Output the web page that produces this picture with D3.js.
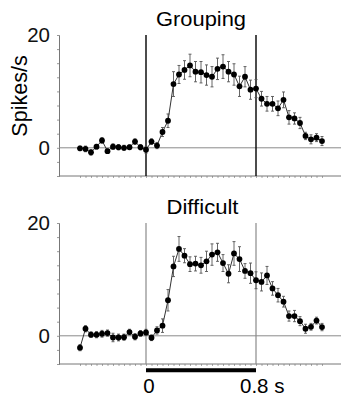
<!DOCTYPE html>
<html>
<head>
<meta charset="utf-8">
<script src="https://cdn.jsdelivr.net/npm/d3@7"></script>
<style>
  body { margin: 0; background: #fff; }
  svg { display: block; font-family: "Liberation Sans", Arial, sans-serif; }
</style>
</head>
<body>
<svg id="chart" width="341" height="399"></svg>
<script>
// time bins (s) relative to stimulus onset
var bins = [-0.48, -0.44, -0.40, -0.36, -0.32, -0.28, -0.24, -0.20, -0.16, -0.12, -0.08, -0.04,
    0.00, 0.04, 0.08, 0.12, 0.16, 0.20, 0.24, 0.28, 0.32, 0.36, 0.40, 0.44, 0.48, 0.52, 0.56,
    0.60, 0.64, 0.68, 0.72, 0.76, 0.80, 0.84, 0.88, 0.92, 0.96, 1.00, 1.04, 1.08, 1.12, 1.16,
    1.20, 1.24, 1.28];

var groupingRate = [-0.1, -0.2, -0.8, 0.2, 1.3, -0.6, 0.2, 0.1, 0.0, 0.1, 1.1, 0.1,
    -0.35, 1.1, 0.4, 2.8, 4.8, 11.3, 13.0, 13.8, 14.6, 13.5, 13.4, 12.9, 12.6, 14.0, 14.4,
    13.5, 13.0, 10.9, 12.6, 10.3, 10.5, 8.7, 7.8, 7.8, 7.0, 8.5, 5.4, 5.2, 4.4, 2.1,
    1.5, 1.8, 1.2];
var groupingSem = [0.4, 0.5, 0.5, 0.4, 0.5, 0.4, 0.5, 0.45, 0.45, 0.4, 0.5, 0.45,
    0.6, 0.5, 0.55, 0.8, 1.2, 2.2, 1.6, 1.65, 2.0, 1.8, 1.9, 1.8, 1.8, 1.9, 2.1,
    1.8, 1.9, 1.8, 1.8, 1.7, 1.6, 1.3, 1.3, 1.3, 1.3, 1.4, 1.2, 1.0, 1.0, 0.65,
    0.8, 0.7, 0.8];

var difficultRate = [-2.1, 1.25, 0.2, 0.2, 0.36, 0.48, -0.3, -0.3, -0.25, 0.66, -0.17, 0.42,
    0.6, -0.35, 0.95, 1.8, 6.3, 12.3, 15.4, 14.2, 12.7, 12.8, 12.5, 13.2, 14.4, 14.8, 12.9,
    11.0, 14.6, 13.6, 11.5, 11.1, 9.85, 9.55, 10.7, 8.4, 7.2, 6.05, 3.5, 3.5, 2.6, 1.25,
    1.6, 2.7, 1.55];
var difficultSem = [0.55, 0.55, 0.5, 0.55, 0.6, 0.55, 0.75, 0.6, 0.55, 0.5, 0.55, 0.5,
    0.55, 0.5, 0.65, 1.2, 1.9, 1.8, 2.2, 1.25, 1.3, 1.3, 1.4, 1.8, 1.9, 1.6, 1.5,
    1.6, 2.1, 2.2, 1.3, 1.8, 1.5, 1.6, 1.6, 1.2, 1.2, 0.95, 0.9, 1.0, 0.8, 0.8,
    0.6, 0.6, 0.65];

var yTicks = [-5, -2.5, 0, 2.5, 5, 7.5, 10, 12.5, 15, 17.5, 20];
var yLabels = [0, 20];
var events = [0, 0.8];          // stimulus on / off
var xLabels = ["0", "0.8 s"];

var svg = d3.select("#chart");
var axisLeft = 59, right = 341;

var x = d3.scaleLinear().domain([0, 0.8]).range([146, 256]);

function drawPanel(opts) {
    var y = d3.scaleLinear().domain([-5, 20]).range([opts.bottom, opts.bottom - 141]);
    var g = svg.append("g");
    var data = bins.map((t, i) => ({ t: t, v: opts.rate[i], e: opts.sem[i] }));

    // title
    g.append("text")
        .attr("x", opts.titleX)
        .attr("y", opts.bottom - 150)
        .attr("text-anchor", "middle")
        .attr("textLength", opts.titleLen)
        .attr("lengthAdjust", "spacingAndGlyphs")
        .style("font-size", "20px")
        .text(opts.title);

    // y axis
    var ya = g.append("g")
        .attr("transform", "translate(" + axisLeft + ",0)")
        .call(d3.axisLeft(y).tickValues(yTicks).tickSize(2).tickPadding(7)
            .tickFormat(d => yLabels.indexOf(d) >= 0 ? d : ""));
    ya.select(".domain").attr("stroke", "#777");
    ya.selectAll(".tick line").attr("stroke", "#999");
    ya.selectAll(".tick text")
        .style("font-size", "20.5px")
        .attr("fill", "#111")
        .attr("font-family", "Liberation Sans, Arial, sans-serif");

    // x axis (bin ticks, no labels)
    var xa = g.append("g")
        .attr("transform", "translate(0," + y(-5) + ")")
        .call(d3.axisBottom(x).tickValues(bins).tickSize(2).tickFormat(""));
    xa.select(".domain").remove();
    xa.selectAll(".tick line").attr("stroke", "#aaa");
    g.append("line")
        .attr("x1", axisLeft).attr("x2", right)
        .attr("y1", y(-5)).attr("y2", y(-5))
        .attr("stroke", "#777");

    // zero line
    g.append("line")
        .attr("x1", axisLeft).attr("x2", right)
        .attr("y1", y(0)).attr("y2", y(0))
        .attr("stroke", "#8a8a8a");

    // event lines
    g.selectAll(".event")
        .data(events)
        .enter().append("line")
        .attr("x1", d => x(d)).attr("x2", d => x(d))
        .attr("y1", y(20)).attr("y2", y(-5))
        .attr("stroke", opts.eventColor)
        .attr("stroke-width", opts.eventWidth);

    // error bars
    var eb = g.selectAll(".err")
        .data(data)
        .enter().append("g");
    eb.append("line")
        .attr("x1", d => x(d.t)).attr("x2", d => x(d.t))
        .attr("y1", d => y(d.v - d.e)).attr("y2", d => y(d.v + d.e))
        .attr("stroke", "#555").attr("stroke-width", 0.9);
    eb.append("line")
        .attr("x1", d => x(d.t) - 1.5).attr("x2", d => x(d.t) + 1.5)
        .attr("y1", d => y(d.v + d.e)).attr("y2", d => y(d.v + d.e))
        .attr("stroke", "#555").attr("stroke-width", 0.9);
    eb.append("line")
        .attr("x1", d => x(d.t) - 1.5).attr("x2", d => x(d.t) + 1.5)
        .attr("y1", d => y(d.v - d.e)).attr("y2", d => y(d.v - d.e))
        .attr("stroke", "#555").attr("stroke-width", 0.9);

    // line
    var line = d3.line().x(d => x(d.t)).y(d => y(d.v));
    g.append("path")
        .datum(data)
        .attr("d", line)
        .attr("fill", "none")
        .attr("stroke", "#333")
        .attr("stroke-width", 1);

    // points
    g.selectAll(".pt")
        .data(data)
        .enter().append("circle")
        .attr("cx", d => x(d.t))
        .attr("cy", d => y(d.v))
        .attr("r", 2.9)
        .attr("fill", "#000");

    return y;
}

drawPanel({ title: "Grouping", titleX: 201, titleLen: 90, bottom: 176,
    rate: groupingRate, sem: groupingSem, eventColor: "#111", eventWidth: 1.5 });
drawPanel({ title: "Difficult", titleX: 202.5, titleLen: 72, bottom: 364,
    rate: difficultRate, sem: difficultSem, eventColor: "#8a8a8a", eventWidth: 1.2 });

// y axis label
svg.append("text")
    .attr("transform", "translate(27,96) rotate(-90)")
    .attr("text-anchor", "middle")
    .style("font-size", "21.5px")
    .text("Spikes/s");

// stimulus bar
svg.append("line")
    .attr("x1", x(events[0])).attr("x2", x(events[1]))
    .attr("y1", 370.3).attr("y2", 370.3)
    .attr("stroke", "#000")
    .attr("stroke-width", 4);

// time labels
svg.selectAll(".xlab")
    .data(xLabels)
    .enter().append("text")
    .attr("x", (d, i) => x(events[i]) + (i === 0 ? -2.7 : -16))
    .attr("y", 393)
    .style("font-size", "20.5px")
    .text(d => d);
</script>
</body>
</html>
